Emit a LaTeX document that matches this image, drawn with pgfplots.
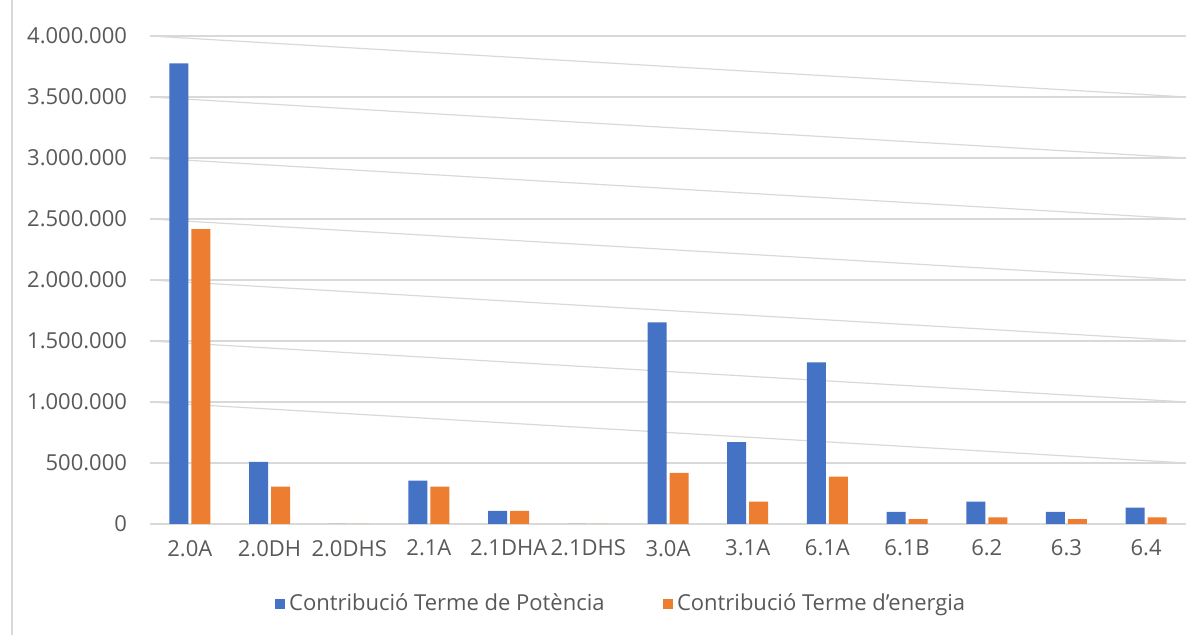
\documentclass[border=0pt]{standalone}
\usepackage{pgfplots}
\pgfplotsset{compat=1.18}
\usepackage{fontspec}
\setmainfont{Open Sans}
\usetikzlibrary{calc}
\definecolor{cblue}{HTML}{4472C4}
\definecolor{corange}{HTML}{ED7D31}
\definecolor{cgrid}{HTML}{D9D9D9}
\definecolor{ctext}{HTML}{595959}
\begin{document}
\begin{tikzpicture}
\begin{axis}[
  scale only axis, width=518pt, height=244pt,
  xmin=-0.5, xmax=12.5, ymin=0, ymax=4000000,
  xtick={0,...,12},
  xticklabels={2.0A,2.0DH,2.0DHS,2.1A,2.1DHA,2.1DHS,3.0A,3.1A,6.1A,6.1B,6.2,6.3,6.4},
  ytick={0,500000,...,4000000},
  scaled y ticks=false,
  /pgf/number format/fixed,
  /pgf/number format/1000 sep={.},
  /pgf/number format/assume math mode=true,
  ticklabel style={font=\fontsize{11}{13}\selectfont, text=ctext},
  xticklabel style={yshift=-4.5pt},
  yticklabel style={xshift=-8pt},
  major tick length=0pt,
  axis line style={draw=none},
  ymajorgrids, grid style={cgrid, line width=0.6pt},
  clip=false,
  legend style={at={(rel axis cs:0.4556,-0.164)}, anchor=center, draw=none,
    legend columns=2, font=\fontsize{11}{13}\selectfont, text=ctext,
    /tikz/every even column/.append style={column sep=27pt}},
]
% slanted decorative lines seen in the image
\addplot[cgrid, line width=0.6pt, forget plot] coordinates {(-0.5,4000000) (12.5,3500000)};
\addplot[cgrid, line width=0.6pt, forget plot] coordinates {(-0.5,3500000) (12.5,3000000)};
\addplot[cgrid, line width=0.6pt, forget plot] coordinates {(-0.5,3000000) (12.5,2500000)};
\addplot[cgrid, line width=0.6pt, forget plot] coordinates {(-0.5,2500000) (12.5,2000000)};
\addplot[cgrid, line width=0.6pt, forget plot] coordinates {(-0.5,2000000) (12.5,1500000)};
\addplot[cgrid, line width=0.6pt, forget plot] coordinates {(-0.5,1500000) (12.5,1000000)};
\addplot[cgrid, line width=0.6pt, forget plot] coordinates {(-0.5,1000000) (12.5,500000)};

\addplot[ybar, bar width=9.5pt, bar shift=-5.5pt, fill=cblue, draw=none,
  legend image code/.code={\fill[cblue] (0pt,-2.6pt) rectangle (5.2pt,2.6pt);}]
coordinates {(0,3776000) (1,510000) (2,0) (3,355000) (4,107000) (5,0) (6,1653000) (7,672000) (8,1325000) (9,100000) (10,183000) (11,100000) (12,134000)};
\addlegendentry{Contribució Terme de Potència}
\addplot[ybar, bar width=9.5pt, bar shift=5.5pt, fill=corange, draw=none,
  legend image code/.code={\fill[corange] (0pt,-2.6pt) rectangle (5.2pt,2.6pt);}]
coordinates {(0,2418000) (1,306000) (2,0) (3,306000) (4,107000) (5,0) (6,420000) (7,183000) (8,388000) (9,40000) (10,55000) (11,40000) (12,55000)};
\addlegendentry{Contribució Terme d’energia}

\coordinate (bl) at (rel axis cs:0,0);
\coordinate (tr) at (rel axis cs:1,1);
\end{axis}
\pgfresetboundingbox
\path[use as bounding box] ($(bl)+(-75pt,-55.5pt)$) rectangle ($(tr)+(0pt,18pt)$);
\draw[cgrid, line width=0.8pt] ($(bl)+(-69pt,-55.5pt)$) -- ($(bl|-tr)+(-69pt,18pt)$);
\end{tikzpicture}
\end{document}
